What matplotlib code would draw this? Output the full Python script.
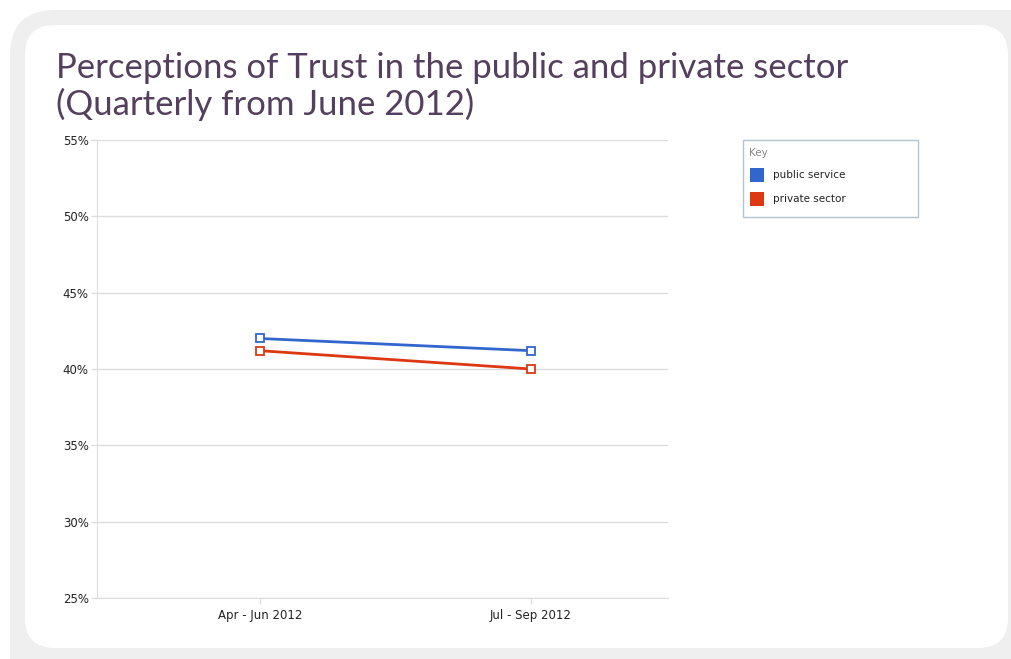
import matplotlib
matplotlib.use("Agg")
import matplotlib.pyplot as plt
from matplotlib.patches import FancyBboxPatch, Rectangle

quarters = ["Apr - Jun 2012", "Jul - Sep 2012"]
public_service = [42.0, 41.2]
private_sector = [41.2, 40.0]
series_names = ["public service", "private sector"]
series_colors = ["#3366cc", "#dc3912"]
y_ticks = [25, 30, 35, 40, 45, 50, 55]

W, H = 1012, 659
fig = plt.figure(figsize=(W / 100, H / 100), dpi=100)
fig.patch.set_facecolor("white")

# background frame in pixel coordinates
bg = fig.add_axes([0, 0, 1, 1], zorder=0)
bg.set_xlim(0, W)
bg.set_ylim(H, 0)
bg.axis("off")
bg.add_patch(FancyBboxPatch((10, 10), 1060, 700, boxstyle="round,pad=0,rounding_size=45",
                            fc="#efefef", ec="none"))
bg.add_patch(FancyBboxPatch((25, 25), 983, 623, boxstyle="round,pad=0,rounding_size=30",
                            fc="white", ec="none"))
title_kw = dict(fontsize=25, color="#553f5e", family="Lato", va="center")
bg.text(56, 68, "Perceptions of Trust in the public and private sector", **title_kw)
bg.text(56, 104, "(Quarterly from June 2012)", **title_kw)

# legend box
bg.add_patch(Rectangle((743, 140), 175, 77, fc="white", ec="#b4c4cc", lw=1))
bg.text(749, 153, "Key", fontsize=7.5, color="#888888", va="center")
for i, (name, c) in enumerate(zip(series_names, series_colors)):
    y = 175 + i * 24
    bg.add_patch(Rectangle((750, y - 7), 14, 14, fc=c, ec="none"))
    bg.text(773, y, name, fontsize=7.5, color="#222222", va="center")

# chart axes: x 97..668, y 140..598
ax = fig.add_axes([97 / W, 1 - 598 / H, 571 / W, 458 / H], zorder=1)
ax.patch.set_alpha(0)
x = range(len(quarters))
for vals, c in zip([public_service, private_sector], series_colors):
    ax.plot(x, vals, color=c, lw=2, marker="s", ms=6, mfc="white", mec=c, mew=1.3,
            solid_capstyle="round")

ax.set_xlim(-0.6, 1.505)
ax.set_ylim(25, 55)
ax.set_yticks(y_ticks)
ax.set_yticklabels([f"{v}%" for v in y_ticks], fontsize=8.5, color="#222222")
ax.set_xticks(list(x))
ax.set_xticklabels(quarters, fontsize=8.5, color="#222222")
ax.grid(axis="y", color="#dddddd", lw=1)
ax.set_axisbelow(True)
for s in ["top", "right"]:
    ax.spines[s].set_visible(False)
for s in ["left", "bottom"]:
    ax.spines[s].set_color("#dddddd")
ax.tick_params(axis="both", colors="#dddddd", labelcolor="#222222", length=4, width=1)
ax.tick_params(axis="x", pad=4)
ax.tick_params(axis="y", pad=2)

fig.savefig("out.png", dpi=100)
